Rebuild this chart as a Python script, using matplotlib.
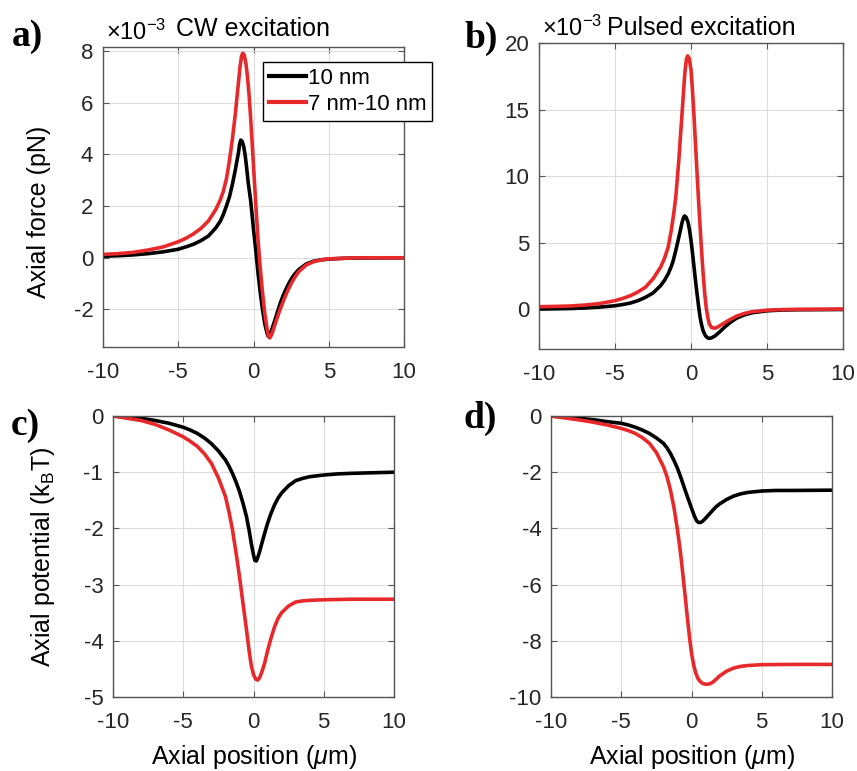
import matplotlib
matplotlib.use("Agg")
import matplotlib.pyplot as plt

plt.rcParams['font.family'] = ['Liberation Sans', 'DejaVu Sans']
plt.rcParams['mathtext.fontset'] = 'custom'
plt.rcParams['mathtext.rm'] = 'Liberation Sans'
plt.rcParams['mathtext.it'] = 'Liberation Sans:italic'
plt.rcParams['axes.unicode_minus'] = False

# panel a: CW excitation, axial force (x1e-3 pN)
a_x_black = [-10, -9, -8, -7, -6, -5, -4.5, -4, -3.5, -3, -2.5, -2.2, -2, -1.8, -1.6, -1.4, -1.2, -1.1, -1.0,
             -0.92, -0.85, -0.75, -0.65, -0.55, -0.45, -0.35, -0.2, -0.1, 0, 0.15, 0.3, 0.45, 0.6, 0.75, 0.9,
             0.97, 1.05, 1.2, 1.4, 1.6, 1.8, 2, 2.25, 2.5, 2.75, 3, 3.5, 4, 4.5, 5, 6, 7, 10]
a_y_black = [0.06, 0.08, 0.11, 0.16, 0.23, 0.33, 0.42, 0.52, 0.66, 0.84, 1.16, 1.42, 1.68, 2.0, 2.35, 2.85,
             3.42, 3.75, 4.06, 4.4, 4.55, 4.5, 4.3, 3.95, 3.45, 2.9, 2.26, 1.7, 1.1, 0.3, -0.58, -1.35, -2.0,
             -2.55, -2.92, -3.03, -3.0, -2.8, -2.45, -2.08, -1.72, -1.42, -1.1, -0.83, -0.62, -0.46, -0.24,
             -0.13, -0.08, -0.05, -0.02, -0.01, 0]
a_x_red = [-10, -9, -8, -7, -6, -5, -4.5, -4, -3.5, -3, -2.5, -2.2, -2, -1.8, -1.6, -1.4, -1.2, -1.1, -1.0,
           -0.9, -0.8, -0.72, -0.62, -0.5, -0.4, -0.3, -0.2, -0.1, 0, 0.15, 0.3, 0.45, 0.6, 0.75, 0.9, 1.0,
           1.08, 1.2, 1.35, 1.5, 1.75, 2, 2.25, 2.5, 2.75, 3, 3.5, 4, 4.5, 5, 6, 7, 10]
a_y_red = [0.13, 0.16, 0.21, 0.3, 0.42, 0.62, 0.75, 0.92, 1.13, 1.42, 1.87, 2.25, 2.58, 3.05, 3.75, 4.6, 5.6,
           6.2, 6.77, 7.35, 7.78, 7.91, 7.85, 7.5, 7.0, 6.35, 5.5, 4.55, 3.55, 2.1, 0.7, -0.4, -1.35, -2.15,
           -2.75, -3.05, -3.1, -2.98, -2.72, -2.45, -2.02, -1.65, -1.3, -1.0, -0.75, -0.54, -0.28, -0.15,
           -0.08, -0.04, -0.02, 0, 0]

# panel b: pulsed excitation, axial force (x1e-3 pN)
b_x_black = [-10, -9, -8, -7, -6, -5, -4.5, -4, -3.5, -3, -2.5, -2, -1.75, -1.5, -1.3, -1.2, -1.1, -1.0,
             -0.85, -0.7, -0.6, -0.5, -0.42, -0.32, -0.2, -0.1, 0, 0.1, 0.2, 0.3, 0.4, 0.5, 0.6, 0.7, 0.8,
             0.95, 1.1, 1.25, 1.4, 1.6, 1.8, 2, 2.25, 2.5, 2.75, 3, 3.5, 4, 5, 6, 7, 10]
b_y_black = [0, 0.02, 0.04, 0.08, 0.15, 0.25, 0.34, 0.45, 0.63, 0.88, 1.21, 1.76, 2.15, 2.65, 3.2, 3.53,
             3.95, 4.41, 5.15, 5.92, 6.45, 6.85, 7.0, 6.9, 6.55, 5.95, 5.17, 4.2, 3.15, 2.1, 1.13, 0.2, -0.63,
             -1.2, -1.64, -2.0, -2.17, -2.2, -2.13, -2.0, -1.8, -1.59, -1.32, -1.08, -0.87, -0.68, -0.44,
             -0.28, -0.13, -0.07, -0.05, -0.03]
b_x_red = [-10, -9, -8, -7, -6, -5, -4.5, -4, -3.5, -3, -2.5, -2, -1.75, -1.5, -1.3, -1.2, -1.1, -1.0, -0.9,
           -0.8, -0.7, -0.6, -0.5, -0.4, -0.3, -0.22, -0.12, 0, 0.1, 0.2, 0.3, 0.4, 0.5, 0.6, 0.7, 0.8, 0.9,
           1.0, 1.1, 1.2, 1.35, 1.55, 1.75, 2, 2.5, 3, 3.5, 4, 5, 6, 7, 10]
b_y_red = [0.18, 0.2, 0.23, 0.3, 0.42, 0.63, 0.8, 1.0, 1.28, 1.64, 2.27, 3.15, 3.8, 4.66, 5.9, 6.68, 7.5,
           8.44, 9.8, 11.2, 12.9, 14.5, 16.2, 17.8, 18.8, 19.03, 18.85, 18.0, 16.4, 14.5, 12.3, 10.2, 8.1,
           6.18, 4.3, 2.65, 1.2, 0.13, -0.6, -1.1, -1.38, -1.44, -1.35, -1.18, -0.83, -0.53, -0.33, -0.2,
           -0.08, -0.04, -0.02, 0]

# panel c: CW excitation, axial potential (kBT)
c_x_black = [-10, -9, -8, -7, -6, -5, -4.5, -4, -3.5, -3, -2.5, -2, -1.75, -1.5, -1.25, -1, -0.75, -0.5,
             -0.3, -0.15, 0, 0.1, 0.2, 0.3, 0.45, 0.6, 0.8, 1, 1.25, 1.5, 1.75, 2, 2.5, 3, 3.5, 4, 5, 6, 7,
             8.5, 10]
c_y_black = [0, -0.02, -0.04, -0.08, -0.13, -0.2, -0.25, -0.31, -0.39, -0.49, -0.62, -0.78, -0.89, -1.02,
             -1.17, -1.34, -1.55, -1.79, -2.05, -2.28, -2.47, -2.57, -2.58, -2.52, -2.4, -2.26, -2.08, -1.91,
             -1.73, -1.58, -1.46, -1.37, -1.24, -1.15, -1.11, -1.08, -1.05, -1.03, -1.02, -1.01, -1.0]
c_x_red = [-10, -9, -8, -7, -6, -5, -4.5, -4, -3.5, -3, -2.5, -2, -1.75, -1.5, -1.25, -1, -0.75, -0.5, -0.3,
           -0.15, 0, 0.15, 0.3, 0.45, 0.6, 0.8, 1, 1.25, 1.5, 1.75, 2, 2.5, 3, 3.5, 4, 5, 7, 10]
c_y_red = [0, -0.04, -0.08, -0.15, -0.25, -0.37, -0.45, -0.54, -0.67, -0.84, -1.1, -1.43, -1.7, -2.02,
           -2.42, -2.85, -3.33, -3.8, -4.2, -4.45, -4.6, -4.68, -4.7, -4.65, -4.55, -4.39, -4.18, -3.95,
           -3.75, -3.6, -3.5, -3.38, -3.31, -3.29, -3.28, -3.27, -3.26, -3.26]

# panel d: pulsed excitation, axial potential (kBT)
d_x_black = [-10, -9, -8, -7, -6, -5, -4.5, -4, -3.5, -3, -2.5, -2, -1.75, -1.5, -1.25, -1, -0.75, -0.5,
             -0.25, 0, 0.2, 0.35, 0.5, 0.65, 0.8, 1, 1.25, 1.5, 1.75, 2, 2.5, 3, 3.5, 4, 5, 6, 7, 10]
d_y_black = [0, -0.04, -0.08, -0.13, -0.2, -0.26, -0.32, -0.4, -0.5, -0.62, -0.78, -0.97, -1.13, -1.33,
             -1.58, -1.86, -2.2, -2.57, -2.93, -3.28, -3.55, -3.72, -3.79, -3.79, -3.74, -3.64, -3.5, -3.36,
             -3.23, -3.13, -2.97, -2.85, -2.77, -2.72, -2.67, -2.65, -2.65, -2.64]
d_x_red = [-10, -9, -8, -7, -6, -5, -4.5, -4, -3.5, -3, -2.5, -2, -1.75, -1.5, -1.25, -1, -0.85, -0.7,
           -0.55, -0.4, -0.3, -0.2, -0.1, 0, 0.15, 0.3, 0.45, 0.6, 0.8, 1.05, 1.3, 1.5, 1.75, 2, 2.5, 3, 3.5,
           4, 5, 7, 10]
d_y_red = [0, -0.07, -0.14, -0.22, -0.32, -0.44, -0.52, -0.62, -0.77, -0.97, -1.3, -1.8, -2.15, -2.63,
           -3.25, -4.05, -4.6, -5.23, -5.95, -6.65, -7.15, -7.6, -8.05, -8.43, -8.85, -9.14, -9.33, -9.44,
           -9.52, -9.55, -9.53, -9.48, -9.37, -9.25, -9.08, -8.97, -8.91, -8.88, -8.85, -8.84, -8.84]

x_ticks = [-10, -5, 0, 5, 10]
legend_labels = ['10 nm', '7 nm-10 nm']

W, H = 857, 771
RED = '#e8292b'
LW = 2.6
fig = plt.figure(figsize=(W / 100, H / 100), dpi=100)


def axes_px(l, t, r, b):
    return fig.add_axes([l / W, 1 - b / H, (r - l) / W, (b - t) / H])


def style(ax, ylim, yticks):
    ax.set_xlim(-10, 10)
    ax.set_ylim(*ylim)
    ax.set_xticks(x_ticks)
    ax.set_yticks(yticks)
    ax.grid(True, color='#dcdcdc', linewidth=0.8)
    ax.set_axisbelow(True)
    for s in ax.spines.values():
        s.set_color('#555555')
        s.set_linewidth(1.0)
    ax.tick_params(direction='in', length=4, width=0.8, top=True, right=True,
                   labelsize=16, colors='#555555', labelcolor='#262626')
    ax.tick_params(axis='x', pad=11)
    ax.tick_params(axis='y', pad=7)


def curves(ax, xb, yb, xr, yr, labels=(None, None)):
    ax.plot(xb, yb, color='black', lw=LW, solid_joinstyle='round', label=labels[0])
    ax.plot(xr, yr, color=RED, lw=LW, solid_joinstyle='round', label=labels[1])


def exponent(ax):
    ax.text(0.01, 1.023, r'$\times$10$^{\mathregular{-3}}$', transform=ax.transAxes,
            fontsize=17, va='baseline')


ax_a = axes_px(103, 47, 404, 347)
curves(ax_a, a_x_black, a_y_black, a_x_red, a_y_red, legend_labels)
style(ax_a, (-3.45, 8.15), [-2, 0, 2, 4, 6, 8])
ax_a.set_ylabel('Axial force (pN)', fontsize=18)
ax_a.yaxis.set_label_coords(-0.172, 0.45)
exponent(ax_a)
ax_a.text(0.5, 1.035, 'CW excitation', transform=ax_a.transAxes, fontsize=18, ha='center', va='baseline')
leg = ax_a.legend(loc='upper left', bbox_to_anchor=(263 / W, 1 - 62 / H), bbox_transform=fig.transFigure,
                  fontsize=16, frameon=True, fancybox=False, framealpha=1, edgecolor='black',
                  borderpad=0.25, handlelength=1.7, handletextpad=0.08, labelspacing=0.25, borderaxespad=0)
leg.get_frame().set_linewidth(1.0)
for ln in leg.get_lines():
    ln.set_linewidth(3)

ax_b = axes_px(539, 43, 843, 349)
curves(ax_b, b_x_black, b_y_black, b_x_red, b_y_red)
style(ax_b, (-3, 20), [0, 5, 10, 15, 20])
exponent(ax_b)
ax_b.text(0.225, 1.026, 'Pulsed excitation', transform=ax_b.transAxes, fontsize=18, ha='left', va='baseline')

ax_c = axes_px(113, 416, 394, 697)
curves(ax_c, c_x_black, c_y_black, c_x_red, c_y_red)
style(ax_c, (-5, 0), [-5, -4, -3, -2, -1, 0])
ax_c.set_ylabel(r'Axial potential (k$_\mathregular{B}$T)', fontsize=18)
ax_c.yaxis.set_label_coords(-0.2, 0.5)
ax_c.set_xlabel(r'Axial position ($\mu$m)', fontsize=18, labelpad=7)

ax_d = axes_px(551, 416, 832, 697)
curves(ax_d, d_x_black, d_y_black, d_x_red, d_y_red)
style(ax_d, (-10, 0), [-10, -8, -6, -4, -2, 0])
ax_d.set_xlabel(r'Axial position ($\mu$m)', fontsize=18, labelpad=7)

# panel letters
for lbl, px, py in [('a)', 27, 37), ('b)', 481, 38), ('c)', 25, 425), ('d)', 480, 418)]:
    fig.text(px / W, 1 - py / H, lbl, fontsize=27, fontweight='bold', family='Liberation Serif',
             ha='center', va='center')

fig.savefig('out.png', dpi=100)
